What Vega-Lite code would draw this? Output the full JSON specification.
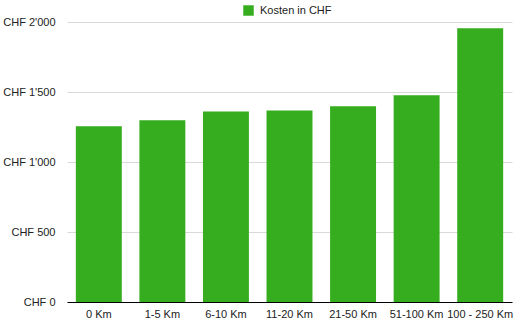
{
  "$schema": "https://vega.github.io/schema/vega-lite/v6.json",
  "width": 445,
  "height": 280,
  "autosize": "none",
  "padding": {"left": 67, "top": 22, "right": 10, "bottom": 23},
  "background": "white",
  "config": {
    "view": {"stroke": null},
    "font": "Liberation Sans",
    "axis": {"labelFont": "Liberation Sans", "labelFontSize": 11, "labelColor": "#222222"},
    "legend": {"labelFont": "Liberation Sans", "labelFontSize": 11, "labelColor": "#222222"}
  },
  "data": {
    "values": [
      {"dist": "0 Km", "kosten": 1255, "serie": "Kosten in CHF"},
      {"dist": "1-5 Km", "kosten": 1298, "serie": "Kosten in CHF"},
      {"dist": "6-10 Km", "kosten": 1360, "serie": "Kosten in CHF"},
      {"dist": "11-20 Km", "kosten": 1368, "serie": "Kosten in CHF"},
      {"dist": "21-50 Km", "kosten": 1398, "serie": "Kosten in CHF"},
      {"dist": "51-100 Km", "kosten": 1476, "serie": "Kosten in CHF"},
      {"dist": "100 - 250 Km", "kosten": 1955, "serie": "Kosten in CHF"}
    ]
  },
  "mark": {"type": "bar"},
  "encoding": {
    "x": {
      "field": "dist",
      "type": "nominal",
      "sort": null,
      "scale": {"paddingInner": 0.277, "paddingOuter": 0.139},
      "axis": {"title": null, "labelAngle": 0, "ticks": false, "domainColor": "#000000", "domainWidth": 1, "labelPadding": 6, "grid": false}
    },
    "y": {
      "field": "kosten",
      "type": "quantitative",
      "scale": {"domain": [0, 2000], "nice": false},
      "axis": {
        "title": null,
        "values": [0, 500, 1000, 1500, 2000],
        "labelExpr": "'CHF ' + replace(format(datum.value, ','), ',', \"'\")",
        "domain": false,
        "ticks": false,
        "labelPadding": 12,
        "gridColor": "#d9d9d9",
        "gridWidth": 1
      }
    },
    "color": {
      "field": "serie",
      "type": "nominal",
      "scale": {"range": ["#36ad1f"]},
      "legend": {
        "title": null,
        "orient": "none",
        "legendX": 176,
        "legendY": -17,
        "symbolType": "square",
        "symbolSize": 110,
        "symbolStrokeWidth": 0,
        "labelOffset": 6
      }
    }
  }
}
